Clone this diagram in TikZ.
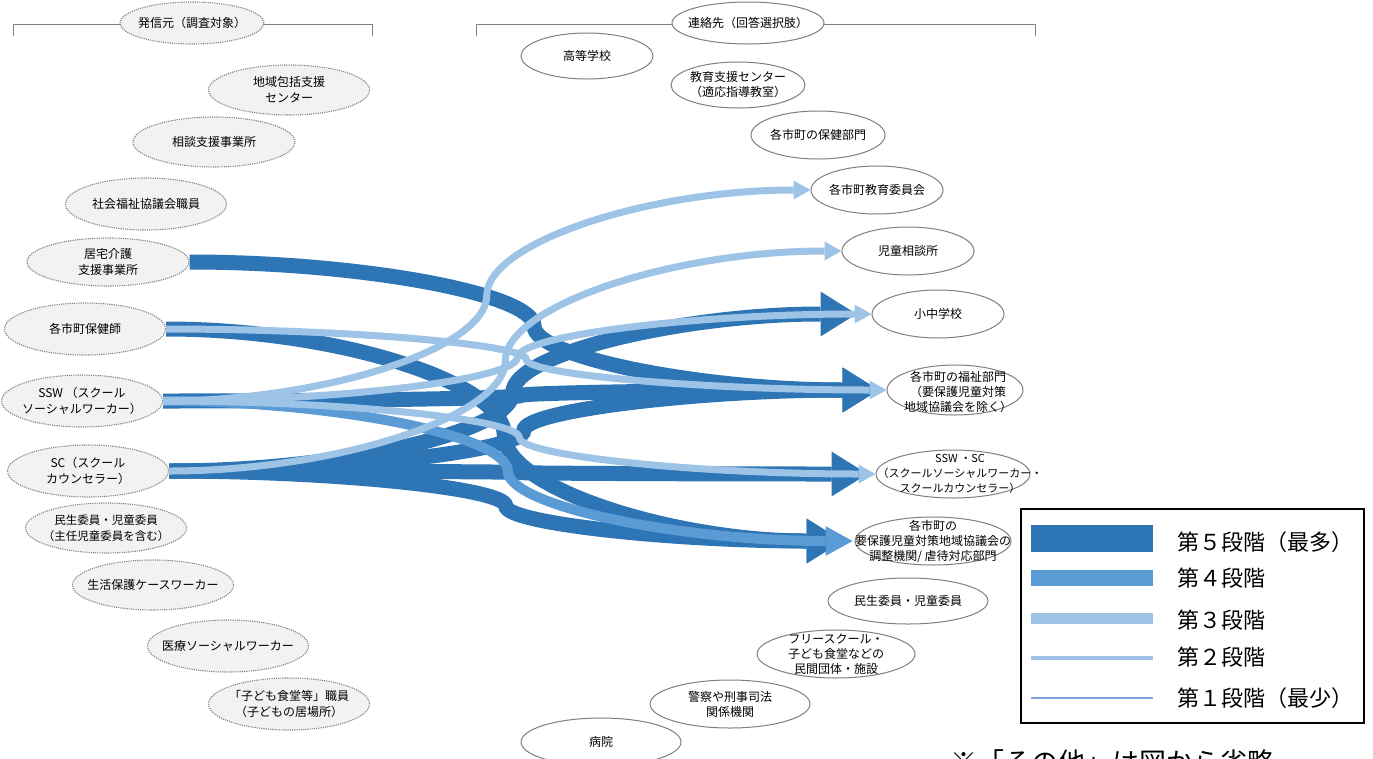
\documentclass[tikz,border=0pt]{standalone}
\usepackage{fontspec}
\setmainfont{Noto Sans CJK JP}
\usetikzlibrary{shapes.geometric,arrows.meta,calc}
\definecolor{cfive}{HTML}{2E75B6}
\definecolor{cfour}{HTML}{5B9BD5}
\definecolor{cthree}{HTML}{9DC3E6}
\definecolor{cone}{HTML}{7DA5DA}
\definecolor{ellgray}{HTML}{7F7F7F}
\definecolor{ellfill}{HTML}{F2F2F2}
% Excel-like curved connector (curvedConnector3, 50%)
\newcommand\cconn[3]{%
  \draw[#1] let \p1=(#2), \p2=(#3), \p3=($(\p1)!0.5!(\p2)$) in
    (\p1) .. controls ({(\x1+\x3)/2},\y1) and (\x3,{(\y1+\y3)/2}) .. (\p3)
          .. controls (\x3,{(\y3+\y2)/2}) and ({(\x3+\x2)/2},\y2) .. (\p2);}
\tikzset{
  srcell/.style={ellipse, draw=ellgray, fill=ellfill, line width=1.1pt,
                 dash pattern=on 1.1pt off 1.1pt, inner sep=0pt},
  dstell/.style={ellipse, draw=ellgray, fill=white, line width=1pt, inner sep=0pt},
  ltxt/.style={align=center, font=\fontsize{12}{16}\selectfont, inner sep=0pt},
  rtxt/.style={align=center, font=\fontsize{12}{15}\selectfont, inner sep=0pt},
  lv5/.style={draw=cfive, line width=15pt, -{Triangle[length=36pt,width=45pt,line width=0pt]}},
  lv4/.style={draw=cfour, line width=10pt, -{Triangle[length=27pt,width=30pt,line width=0pt]}},
  lv3/.style={draw=cthree, line width=7pt, -{Triangle[length=17pt,width=19pt,line width=0pt]}},
  bracket/.style={draw=ellgray, line width=1pt},
  legtxt/.style={anchor=west, font=\fontsize{22}{24}\selectfont, inner sep=0pt},
}
\begin{document}
\begin{tikzpicture}[x=1pt,y=-1pt]
\useasboundingbox (0,0) rectangle (1373,758);
\fill[white] (0,0) rectangle (1373,758);

% brackets
\draw[bracket] (13,36) -- (13,24) -- (372,24) -- (372,36);
\draw[bracket] (476,36) -- (476,24) -- (1035,24) -- (1035,36);
\node[srcell, minimum width=144pt, minimum height=42pt] (hasshin) at (192,23) {};
\node[dstell, minimum width=152pt, minimum height=42pt] (renraku) at (748,23) {};

% source ellipses
\node[srcell, minimum width=161pt, minimum height=50pt] (chiiki) at (289,90) {};
\node[srcell, minimum width=162pt, minimum height=50pt] (soudan) at (214,142) {};
\node[srcell, minimum width=161pt, minimum height=52pt] (shakyo) at (146,204) {};
\node[srcell, minimum width=162pt, minimum height=48pt] (kyo) at (108,262) {};
\node[srcell, minimum width=161pt, minimum height=52pt] (hok) at (85,329) {};
\node[srcell, minimum width=161pt, minimum height=52pt] (ssw) at (82,401) {};
\node[srcell, minimum width=161pt, minimum height=52pt] (sc) at (88,471) {};
\node[srcell, minimum width=161pt, minimum height=50pt] (minL) at (106,528) {};
\node[srcell, minimum width=161pt, minimum height=50pt] (seikatsu) at (153,585) {};
\node[srcell, minimum width=161pt, minimum height=52pt] (iryo) at (228,646) {};
\node[srcell, minimum width=161pt, minimum height=52pt] (kodomo) at (289,704) {};

% destination ellipses
\node[dstell, minimum width=132pt, minimum height=46pt] (kou) at (587,56) {};
\node[dstell, minimum width=134pt, minimum height=46pt] (kyoshi) at (738,85) {};
\node[dstell, minimum width=134pt, minimum height=48pt] (hoken) at (818,135) {};
\node[dstell, minimum width=132pt, minimum height=48pt] (kyoi) at (877,190) {};
\node[dstell, minimum width=132pt, minimum height=48pt] (jiso) at (908,251) {};
\node[dstell, minimum width=132pt, minimum height=48pt] (shochu) at (938,314) {};
\node[dstell, minimum width=136pt, minimum height=50pt] (fuk) at (955,390) {};
\node[dstell, minimum width=154pt, minimum height=48pt] (sswsc) at (953,474) {};
\node[dstell, minimum width=156pt, minimum height=48pt] (yoho) at (933,541) {};
\node[dstell, minimum width=160pt, minimum height=46pt] (minR) at (908,601) {};
\node[dstell, minimum width=158pt, minimum height=48pt] (free) at (836,654) {};
\node[dstell, minimum width=160pt, minimum height=48pt] (keisatsu) at (730,704) {};
\node[dstell, minimum width=160pt, minimum height=48pt] (byoin) at (601,742) {};

% connectors: level 5
\cconn{lv5}{kyo.east}{$(fuk.west)+(-8,0)$}
\cconn{lv5}{hok.east}{$(yoho.west)+(-12,0)$}
\cconn{lv5}{ssw.east}{$(fuk.west)+(-8,0)$}
\cconn{lv5}{sc.east}{$(shochu.west)+(-15,0)$}
\cconn{lv5}{sc.east}{$(fuk.west)+(-8,0)$}
\cconn{lv5}{sc.east}{$(sswsc.west)+(-8,0)$}
\cconn{lv5}{sc.east}{$(yoho.west)+(-12,0)$}
% level 4
\cconn{lv4}{ssw.east}{$(yoho.west)+(-2,0)$}
% level 3
\cconn{lv3}{hok.east}{fuk.west}
\cconn{lv3}{ssw.east}{kyoi.west}
\cconn{lv3}{ssw.east}{shochu.west}
\cconn{lv3}{ssw.east}{sswsc.west}
\cconn{lv3}{sc.east}{jiso.west}

% texts
\node[ltxt] at (hasshin) {発信元（調査対象）};
\node[rtxt] at (renraku) {連絡先（回答選択肢）};
\node[ltxt] at (chiiki) {地域包括支援\\センター};
\node[ltxt] at (soudan) {相談支援事業所};
\node[ltxt] at (shakyo) {社会福祉協議会職員};
\node[ltxt] at (kyo) {居宅介護\\支援事業所};
\node[ltxt] at (hok) {各市町保健師};
\node[ltxt] at (ssw) {SSW （スクール\\ソーシャルワーカー）};
\node[ltxt] at (sc) {SC（スクール\\カウンセラー）};
\node[ltxt, font=\fontsize{11.5}{16}\selectfont] at (minL) {民生委員・児童委員\\（主任児童委員を含む）};
\node[ltxt] at (seikatsu) {生活保護ケースワーカー};
\node[ltxt] at (iryo) {医療ソーシャルワーカー};
\node[ltxt] at (kodomo) {「子ども食堂等」職員\\（子どもの居場所）};

\node[rtxt] at (kou) {高等学校};
\node[rtxt] at (kyoshi) {教育支援センター\\（適応指導教室）};
\node[rtxt] at (hoken) {各市町の保健部門};
\node[rtxt] at (kyoi) {各市町教育委員会};
\node[rtxt] at (jiso) {児童相談所};
\node[rtxt] at (shochu) {小中学校};
\node[rtxt] at ($(fuk)+(3,2)$) {各市町の福祉部門\\（要保護児童対策\\地域協議会を除く）};
\node[rtxt, font=\fontsize{11}{15}\selectfont] at ($(sswsc)+(7,0)$) {SSW ・SC\\（スクールソーシャルワーカー・\\スクールカウンセラー）};
\node[rtxt] at (yoho) {各市町の\\要保護児童対策地域協議会の\\調整機関/ 虐待対応部門};
\node[rtxt] at (minR) {民生委員・児童委員};
\node[rtxt] at (free) {フリースクール・\\子ども食堂などの\\民間団体・施設};
\node[rtxt] at (keisatsu) {警察や刑事司法\\関係機関};
\node[rtxt] at (byoin) {病院};

% legend
\node[draw=black, line width=2pt, minimum width=343pt, minimum height=214pt,
      inner sep=0pt, anchor=north west] (legend) at (1020,508) {};
\fill[cfive] (1031,525) rectangle (1153,552);
\fill[cfour] (1031,570) rectangle (1153,586);
\fill[cthree] (1031,613) rectangle (1153,624);
\fill[cthree] (1031,656) rectangle (1153,660);
\fill[cone] (1031,697) rectangle (1153,699);
\node[legtxt] at (1177,542) {第５段階（最多）};
\node[legtxt] at (1177,578) {第４段階};
\node[legtxt] at (1177,620) {第３段階};
\node[legtxt] at (1177,657) {第２段階};
\node[legtxt] at (1177,698) {第１段階（最少）};

% note (cut off at the bottom edge)
\node[anchor=west, font=\fontsize{27}{30}\selectfont, inner sep=0pt] (note) at (950,762) {※「その他」は図から省略};
\end{tikzpicture}
\end{document}
